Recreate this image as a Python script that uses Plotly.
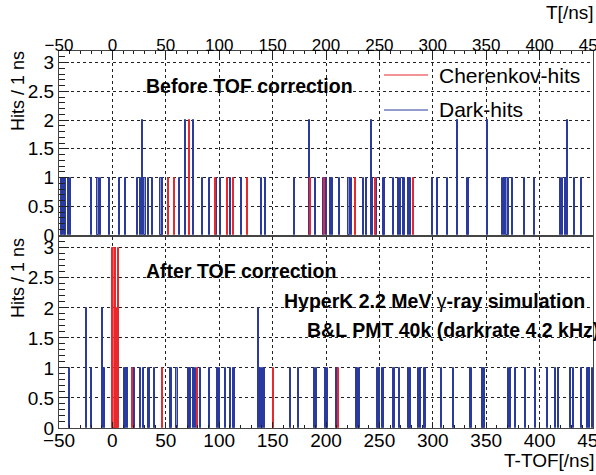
import plotly.graph_objects as go

# ---- data (bin lower edges in ns, counts per 1 ns bin) ----
top_dark_bins = [-48, -47, -45, -44, -42, -40, -20, -14, -12, -3, 6, 12, 23, 26, 28, 30, 33, 37, 45, 46,
                 62, 68, 75, 84, 90, 97, 101, 110, 120, 139, 143, 170, 184, 190, 197, 200, 204, 206, 212,
                 221, 223, 235, 237, 242, 243, 247, 253, 254, 263, 267, 269, 272, 273, 277, 279, 299, 304,
                 313, 323, 332, 333, 351, 365, 367, 369, 370, 374, 385, 395, 419, 421, 424, 426, 432, 439]
top_dark_counts = [1, 1, 1, 1, 1, 1, 1, 1, 1, 1, 1, 1, 1, 1, 2, 1, 1, 1, 1, 1,
                   1, 2, 2, 1, 1, 1, 1, 1, 1, 1, 1, 1, 2, 1, 1, 1, 1, 1, 1,
                   1, 1, 1, 1, 2, 1, 1, 1, 1, 1, 1, 1, 1, 1, 1, 1, 1, 1,
                   1, 2, 1, 1, 2, 1, 1, 1, 1, 1, 1, 1, 1, 1, 1, 2, 1, 1]
top_cher_bins = [52, 58, 72, 96, 107, 113, 126, 185, 198, 227, 246, 281]
top_cher_counts = [1, 1, 2, 1, 1, 1, 1, 1, 1, 1, 1, 1]

bot_dark_bins = [-41, -25, -20, -10, -8, 11, 12, 14, 20, 26, 29, 33, 34, 39, 54, 55, 60, 71, 72, 73, 75,
                 77, 82, 90, 98, 100, 105, 110, 113, 114, 136, 138, 140, 142, 166, 174, 189, 191, 199, 201,
                 209, 228, 229, 231, 248, 249, 250, 252, 253, 263, 264, 268, 277, 278, 279, 286, 288, 292,
                 293, 308, 319, 335, 336, 346, 347, 348, 370, 372, 377, 386, 396, 407, 414, 417, 428, 431,
                 439, 444, 446, 449]
bot_dark_counts = [1, 2, 1, 2, 1, 1, 1, 1, 1, 1, 1, 1, 1, 1, 1, 1, 1, 1, 1, 1, 1,
                   1, 1, 1, 1, 1, 1, 1, 1, 1, 2, 1, 1, 1, 1, 1, 1, 1, 1, 1,
                   1, 1, 1, 1, 1, 1, 1, 1, 1, 1, 1, 1, 1, 1, 1, 1, 1, 1,
                   1, 1, 1, 1, 1, 1, 1, 1, 1, 1, 1, 1, 1, 1, 1, 1, 1, 1,
                   1, 1, 1, 1]
bot_cher_bins = [0, 1, 2, 3, 4, 5, 18, 46, 79, 150, 211]
bot_cher_counts = [3, 3, 3, 2, 1, 3, 1, 1, 1, 1, 1]

x_tick_vals = [-50, 0, 50, 100, 150, 200, 250, 300, 350, 400, 450]
y_tick_vals = [0, 0.5, 1, 1.5, 2, 2.5, 3]
y_tick_text = ["0", "0.5", "1", "1.5", "2", "2.5", "3"]

BLUE = "#2a3a9e"
BLUE_FILL = "rgba(42,58,158,0.55)"
RED = "#e8282d"
RED_FILL = "rgba(232,40,45,0.75)"
FONT = "Liberation Sans, Arial, Helvetica, sans-serif"

fig = go.Figure()


def add_hist(bins, counts, color, fill, yaxis):
    fig.add_trace(go.Bar(
        x=[b + 0.5 for b in bins], y=counts, width=1,
        marker=dict(color=fill, line=dict(color=color, width=1)),
        xaxis="x" if yaxis == "y" else "x2", yaxis=yaxis, showlegend=False,
    ))


add_hist(top_dark_bins, top_dark_counts, BLUE, BLUE_FILL, "y2")
add_hist(top_cher_bins, top_cher_counts, RED, RED_FILL, "y2")
add_hist(bot_dark_bins, bot_dark_counts, BLUE, BLUE_FILL, "y")
add_hist(bot_cher_bins, bot_cher_counts, RED, RED_FILL, "y")

W, H = 596, 475
ml, mr, mt, mb = 59, 3, 51, 47
ph = H - mt - mb
pw = W - ml - mr

axis_common = dict(
    showline=True, linecolor="#444", linewidth=1, mirror=True,
    showgrid=True, gridcolor="#222", griddash="dot", gridwidth=1,
    ticks="inside", tickcolor="#222", zeroline=False, automargin=False,
    tickfont=dict(family=FONT, size=19, color="black"),
)

xcommon = dict(axis_common, range=[-50, 450], tickvals=x_tick_vals, ticklen=6,
               ticklabeloverflow="allow",
               minor=dict(dtick=10, tick0=-50, ticks="inside", ticklen=3, tickcolor="#222", showgrid=False))
ycommon = dict(axis_common, tickvals=y_tick_vals, ticktext=y_tick_text, ticklen=10,
               minor=dict(dtick=0.1, tick0=0, ticks="inside", ticklen=6, tickcolor="#222", showgrid=False),
               ticklabelstandoff=0)

bot_top = (428 - 237) / ph
top_bot = (428 - 235) / ph

fig.update_layout(
    width=W, height=H,
    margin=dict(l=ml, r=mr, t=mt, b=mb, autoexpand=False),
    paper_bgcolor="white", plot_bgcolor="white",
    barmode="overlay", bargap=0,
    font=dict(family=FONT, color="black"),
    xaxis=dict(xcommon, anchor="y", domain=[0, 1], ticklabelstandoff=-5),
    yaxis=dict(ycommon, anchor="x", domain=[0, bot_top], range=[0, 3.18]),
    xaxis2=dict(xcommon, anchor="y2", domain=[0, 1], side="top",
                tickfont=dict(family=FONT, size=17, color="black"), ticklabelstandoff=-8),
    yaxis2=dict(ycommon, anchor="x2", domain=[top_bot, 1], range=[0, 3.2]),
    showlegend=False,
)


def px_ann(text, x, y, xanchor="left", yanchor="middle", size=19, angle=0):
    return dict(text=text, x=(x - ml) / pw, xref="paper", xanchor=xanchor,
                y=(H - mb - y) / ph, yref="paper", yanchor=yanchor, textangle=angle,
                showarrow=False, font=dict(size=size, family=FONT), borderpad=0)


ann = [
    px_ann("Hits / 1 ns", 18, 50, xanchor="center", yanchor="top", size=18, angle=-90),
    px_ann("Hits / 1 ns", 18, 237, xanchor="center", yanchor="top", size=18, angle=-90),
    px_ann("T[/ns]", 595, 13, xanchor="right", size=19),
    px_ann("T-TOF[/ns]", 595, 460, xanchor="right", size=19),
    px_ann("<b>Before TOF correction</b>", 145, 86, size=19.5),
    px_ann("<b>After TOF correction</b>", 145, 271, size=19.5),
    px_ann("<b>HyperK 2.2 MeV </b>γ<b>-ray simulation</b>", 283, 301, size=19.5),
    px_ann("<b>B&amp;L PMT 40k (darkrate 4.2 kHz)</b>", 306, 330, size=19.5),
    px_ann("Cherenkov-hits", 438, 75, size=21),
    px_ann("Dark-hits", 438, 110, size=21),
]
fig.update_layout(annotations=ann)

shapes = [
    dict(type="line", xref="paper", yref="paper", x0=(384 - ml) / pw, x1=(428 - ml) / pw,
         y0=(H - mb - 75) / ph, y1=(H - mb - 75) / ph, line=dict(color=RED, width=1.2)),
    dict(type="line", xref="paper", yref="paper", x0=(384 - ml) / pw, x1=(428 - ml) / pw,
         y0=(H - mb - 110) / ph, y1=(H - mb - 110) / ph, line=dict(color=BLUE, width=1.2)),
]
fig.update_layout(shapes=shapes)

fig.write_html("out.html", config={"displayModeBar": False},
               post_script="document.body.style.margin='0';document.body.style.overflow='hidden';")
